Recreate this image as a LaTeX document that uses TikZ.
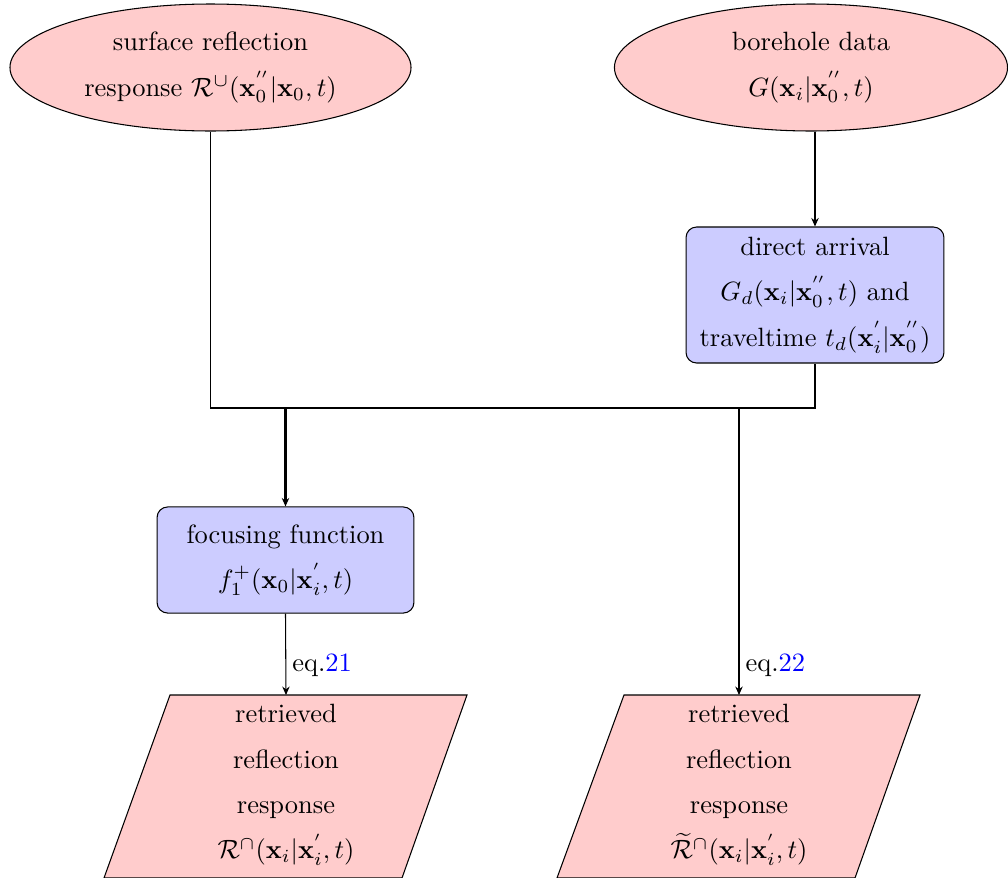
\documentclass[tikz,border=0pt]{standalone}
\usetikzlibrary{shapes.geometric,arrows.meta}
\begin{document}
\begin{tikzpicture}[x=0.378pt,y=-0.378pt,
  every node/.style={font=\linespread{1.43}\selectfont, align=center, inner sep=0pt},
  ell/.style={ellipse, draw, fill=red!20, minimum height=48pt},
  proc/.style={rectangle, rounded corners=4pt, draw, fill=blue!20},
  iobox/.style={draw, fill=red!20},
  arr/.style={-{Stealth[length=3.2pt,width=2.8pt]}},
  eqlabel/.style={anchor=west, xshift=2.3pt}
]
\useasboundingbox (0,0) rectangle (1008,878);

\node[ell, minimum width=151.6pt] (e1) at (210.5,67.5)
  {surface reflection\\response $\mathcal{R}^\cup(\mathbf{x}_0^{''}|\mathbf{x}_0,t)$};
\node[ell, minimum width=148.6pt] (e2) at (811,67.5)
  {borehole data\\$G(\mathbf{x}_i|\mathbf{x}_0^{''},t)$};
\node[proc, minimum width=97.5pt, minimum height=51.4pt] (b1) at (815,295)
  {direct arrival\\$G_d(\mathbf{x}_i|\mathbf{x}_0^{''},t)$ and\\traveltime $t_d(\mathbf{x}_i^{'}|\mathbf{x}_0^{''})$};
\node[proc, minimum width=97.1pt, minimum height=40.1pt] (b2) at (285.5,560)
  {focusing function\\$f_1^+(\mathbf{x}_0|\mathbf{x}_i^{'},t)$};

% parallelograms (input/output)
\draw[iobox] (104,878) -- (170,695) -- (467,695) -- (402,878) -- cycle;
\draw[iobox] (557,878) -- (624,695) -- (920,695) -- (855,878) -- cycle;
\coordinate (p1top) at (286,695);
\coordinate (p2top) at (739,695);
\node (p1) at (286,785)
  {retrieved\\reflection\\response\\$\mathcal{R}^\cap(\mathbf{x}_i|\mathbf{x}_i^{'},t)$};
\node (p2) at (739,785)
  {retrieved\\reflection\\response\\$\widetilde{\mathcal{R}}^\cap(\mathbf{x}_i|\mathbf{x}_i^{'},t)$};

\coordinate (mid) at (500,408);
\draw (e1.south) |- (mid) -| (b1.south);
\draw[arr, thick] (b1.north |- e2.south) -- (b1.north);
\draw[arr, thick] (b2.north |- mid) -- (b2.north);
\draw[arr] (p2top |- mid) -- (p2top)
  node[eqlabel, pos=0.895] {eq.\textcolor{blue}{22}};
\draw[arr] (b2.south) -- (p1top)
  node[eqlabel, pos=0.63] {eq.\textcolor{blue}{21}};
\end{tikzpicture}
\end{document}
